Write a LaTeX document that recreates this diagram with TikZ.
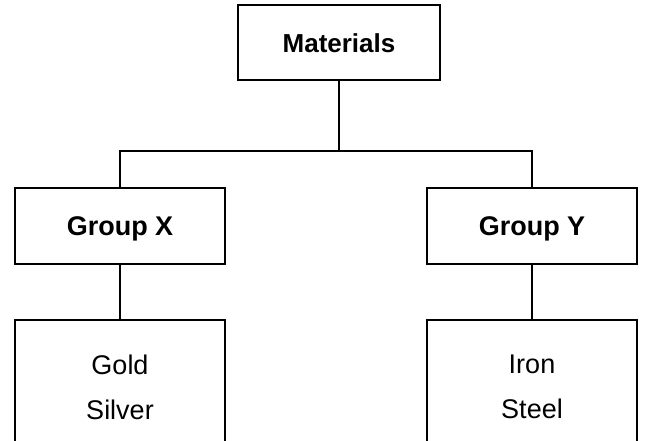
\documentclass[tikz,border=0pt]{standalone}
\usepackage{fontspec}
\setmainfont{Liberation Sans}
\begin{document}
\begin{tikzpicture}[x=1pt,y=-1pt,
  box/.style={draw=black, line width=2pt, rectangle, inner sep=0pt,
    minimum width=210pt, minimum height=76pt},
  single/.style={text height=19pt, text depth=0pt},
  conn/.style={draw=black, line width=2pt}]
\fill[white] (0,0) rectangle (653,440);
\useasboundingbox (0,0) rectangle (653,440);
\clip (0,0) rectangle (653,440);

\node[box, single, minimum width=202pt, minimum height=75pt,
  font=\fontsize{26}{30}\selectfont\bfseries] (mat) at (339,42.5) {Materials};
\node[box, single, font=\fontsize{27}{32}\selectfont\bfseries] (gx) at (120,225.5) {Group X};
\node[box, single, font=\fontsize{27}{32}\selectfont\bfseries] (gy) at (532,225.5) {Group Y};
\node[box, align=center, minimum height=134pt,
  font=\fontsize{27}{45}\selectfont] (gold) at (120,387) {Gold\\Silver};
\node[box, align=center, minimum height=134pt,
  font=\fontsize{27}{45}\selectfont] (iron) at (532,387) {Iron\\Steel};

\coordinate (j) at (339,151);
\draw[conn] (mat.south) -- (j);
\draw[conn] (j) -| (gx.north);
\draw[conn] (j) -| (gy.north);
\draw[conn] (gx.south) -- (gold.north);
\draw[conn] (gy.south) -- (iron.north);
\end{tikzpicture}
\end{document}
